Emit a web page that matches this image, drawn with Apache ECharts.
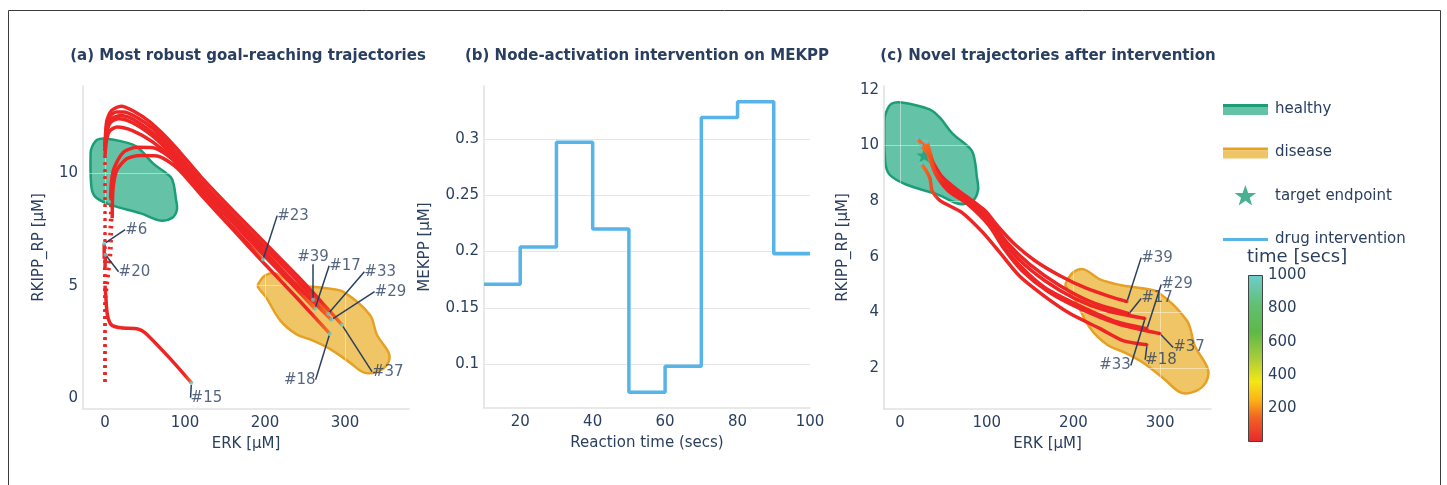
<!DOCTYPE html>
<html><head><meta charset="utf-8">
<script src="https://cdn.jsdelivr.net/npm/echarts@6/dist/echarts.min.js"></script>
<style>html,body{margin:0;padding:0;background:#fff}#c{width:1447px;height:485px}</style>
</head><body><div id="c"></div>
<script>
// ---------------- data ----------------
// regions in (ERK, RKIPP_RP) space
const healthyRegion = [[-16,11.2],[-10,11.5],[2,11.55],[34,11.3],[46,11.0],[60,10.45],[82,9.85],[86,9.5],[88.5,8.9],[90,8.4],[84,8.02],[69,7.9],[45,8.22],[7,8.6],[-12,8.95],[-17,9.4],[-18,10.9]];
const diseaseRegion = [[192,5.1],[200,5.45],[212,5.55],[230,5.2],[255,4.98],[277,4.88],[298,4.72],[331,3.7],[340,2.8],[355,1.97],[353,1.5],[341,1.17],[324,1.12],[305,1.6],[280,2.2],[260,2.55],[239,2.84],[219,3.45],[201,4.5],[191,4.95]];
const targetEndpoint = [[28, 9.65]];

// (b) intervention schedule
const interventionTime = [10,20,30,40,50,60,70,80,90,100];
const mekppLevel = [0.171,0.204,0.297,0.22,0.075,0.098,0.319,0.333,0.198,0.198];

// (a) trajectories: fast initial rise (sparse samples) and dense path
const riseA23 = [[0,0.7],[0,4],[5,6.5],[7,8.9]];
const pathA23 = [[8,9.6],[11,10.2],[23,10.95],[40,11.17],[60,11.15],[85,10.6],[110,9.55],[140,8.35],[170,7.2],[197.5,6.16]];
const riseA39 = [[0,0.7],[0,4],[0,8],[0,11.0]];
const pathA39 = [[2,11.8],[7,12.28],[17,12.44],[35,12.25],[60,11.65],[85,10.8],[120,9.4],[160,7.9],[200,6.4],[230,5.35],[260,4.375]];
const riseA17 = [[0,0.7],[0,4],[0,8],[0,10.8]];
const pathA17 = [[2,11.5],[6,11.9],[15,12.07],[35,11.9],[60,11.4],[85,10.65],[120,9.3],[160,7.8],[200,6.3],[230,5.2],[262.5,3.97]];
const riseA33 = [[0,0.7],[0,4],[0,8],[0,11.2]];
const pathA33 = [[2,12.1],[6,12.55],[14,12.74],[23,12.74],[40,12.5],[60,12.0],[85,11.1],[120,9.65],[160,8.15],[200,6.7],[240,5.25],[279,3.75]];
const riseA29 = [[0,0.7],[0,4],[0,8],[0,11.2]];
const pathA29 = [[2,11.9],[7,12.4],[19,12.59],[35,12.42],[60,11.8],[85,10.95],[120,9.5],[160,8.0],[200,6.5],[240,5.0],[283,3.48]];
const riseA37 = [[0,0.7],[0,4],[0,8],[0,11.0]];
const pathA37 = [[2,12.3],[8,12.8],[20,13.0],[35,12.8],[56,12.3],[85,11.3],[120,9.85],[160,8.35],[200,6.9],[240,5.45],[270,4.3],[296,3.26]];
const riseA18 = [[0,0.7],[0,4],[8,6.5],[9,8.0]];
const pathA18 = [[10,9.3],[14.6,10.13],[27,10.66],[44,10.8],[65,10.78],[90,10.25],[120,9.05],[160,7.5],[200,5.95],[240,4.45],[281,2.86]];
const riseA15 = [[0,0.7],[0,3],[0,5]];
const pathA15 = [[1,4.5],[3,3.7],[8,3.25],[20,3.12],[41,3.07],[50,2.9],[80,1.8],[108,0.67]];
const riseA6 = [[0,0.7],[0,3],[-1,6.2]];
const pathA6 = [[-1,6.87]];
const riseA20 = [[0,0.7],[0,3],[0,5.8]];
const pathA20 = [[0.5,6.38]];

// (c) trajectories after intervention (start in disease, end in healthy)
const pathC39 = [[261.8,4.39],[242.2,4.57],[213.4,4.89],[184.5,5.32],[155.7,5.86],[132.6,6.44],[113,7.09],[98,7.66],[75,8.2],[51.9,8.74],[40.4,9.17],[35.8,9.64],[31.1,10.14]];
const pathC17 = [[264.1,3.96],[222.6,4.35],[184.5,4.96],[149.9,5.72],[124.6,6.47],[106.1,7.23],[90,7.84],[66.9,8.38],[48.4,8.88],[38.1,9.39],[30,9.89],[19.6,10.25]];
const pathC33 = [[282.6,3.78],[238.8,4.06],[201.8,4.5],[167.2,5.14],[136.1,5.94],[115.3,6.73],[98,7.48],[71.5,8.17],[48.4,8.71],[36.9,9.28],[32.3,9.82],[30,10.14]];
const pathC29 = [[284.9,3.42],[245.7,3.71],[201.8,4.32],[167.2,4.89],[138.4,5.68],[117.6,6.47],[100.3,7.3],[75,8.02],[51.9,8.53],[39.2,9.1],[33.4,9.75],[27.7,10.18]];
const pathC37 = [[299.9,3.24],[250.3,3.6],[205.3,4.17],[170.7,4.75],[140.7,5.5],[120,6.29],[102.7,7.12],[78.4,7.88],[55.4,8.38],[41.5,8.96],[34.6,9.6],[24.2,10.0]];
const pathC18 = [[284.9,2.84],[257.2,2.99],[230.7,3.42],[196.1,3.96],[167.2,4.57],[138.4,5.29],[115.3,6.15],[95.7,6.87],[71.5,7.59],[46.1,8.02],[36.9,8.38],[34.6,8.81],[30,9.1],[24.2,9.35]];

// tick values
const ticksAx = [0,100,200,300];
const ticksAy = [0,5,10];
const ticksBx = [20,40,60,80,100];
const ticksBy = [0.1,0.15,0.2,0.25,0.3];
const ticksCx = [0,100,200,300];
const ticksCy = [2,4,6,8,10,12];
const ticksTime = [0,200,400,600,800,1000];

// ---------------- style ----------------
const FONT = 'DejaVu Sans';
const TXT = '#2a3f5f';
const RED = '#ee2525';
const ORANGE = '#f57d22';
const TEAL = '#62c8cc';
const GREEN_LINE = '#1b9e77', GREEN_FILL = '#64c2a6';
const ORANGE_LINE = '#e6a125', ORANGE_FILL = '#f0c565';
const BLUE = '#56b4e9';
const colorStops = [
  {offset:0, color:'#e8262b'},{offset:0.15, color:'#f26522'},{offset:0.25, color:'#fbb216'},
  {offset:0.36, color:'#f5e714'},{offset:0.5, color:'#a9cc3a'},{offset:0.66, color:'#5db947'},
  {offset:0.82, color:'#62bf72'},{offset:1, color:'#6dcdd0'}];

const labelOffA = {'#23':[30,-44],'#39':[0,-43],'#17':[30,-43],'#33':[52,-42],'#29':[59,-28],'#37':[46,47],'#18':[-30,46],'#15':[15,15],'#6':[32,-14],'#20':[29,17]};
const labelOffC = {'#39':[30,-44],'#17':[28,-15],'#29':[30,-44],'#37':[29,14],'#18':[14,15],'#33':[-30,47]};

const trajA = [
  {id:'#23', rise:riseA23, path:pathA23, dir:'x'},
  {id:'#39', rise:riseA39, path:pathA39, dir:'x'},
  {id:'#17', rise:riseA17, path:pathA17, dir:'x'},
  {id:'#33', rise:riseA33, path:pathA33, dir:'x'},
  {id:'#29', rise:riseA29, path:pathA29, dir:'x'},
  {id:'#37', rise:riseA37, path:pathA37, dir:'x'},
  {id:'#18', rise:riseA18, path:pathA18, dir:'x'},
  {id:'#15', rise:riseA15, path:pathA15, dir:'x'},
  {id:'#6',  rise:riseA6,  path:pathA6,  dir:'y'},
  {id:'#20', rise:riseA20, path:pathA20, dir:'y'}
];
const trajC = [
  {id:'#39', path:pathC39},{id:'#17', path:pathC17},{id:'#33', path:pathC33},
  {id:'#29', path:pathC29},{id:'#37', path:pathC37},{id:'#18', path:pathC18}
];

const last = a => a[a.length-1];
const tailStops = [{offset:0,color:RED},{offset:0.9,color:RED},{offset:1,color:ORANGE}];
function grad(dir) {
  if (dir === 'x') return new echarts.graphic.LinearGradient(0,0,1,0,tailStops);
  if (dir === '-x') return new echarts.graphic.LinearGradient(1,0,0,0,tailStops);
  return new echarts.graphic.LinearGradient(0,1,0,0,tailStops);
}
const numFmt = v => String(parseFloat(Number(v).toFixed(6)));

function valAxis(gi, min, max, ticks, extra) {
  const step = ticks[1]-ticks[0];
  const ax = {
    type:'value', gridIndex:gi, min:min, max:max, minInterval:step, maxInterval:step, z:1,
    axisLine:{show:true, onZero:false, lineStyle:{color:'#e1e1e1', width:1.5}},
    axisTick:{show:false},
    axisLabel:{color:TXT, fontSize:15, fontFamily:FONT, margin:5, showMinLabel:false, showMaxLabel:false, formatter:numFmt},
    splitLine:{show:true, showMinLine:false, showMaxLine:false, lineStyle:{color:'rgba(255,255,255,0.45)', width:1}},
    nameLocation:'middle',
    nameTextStyle:{color:TXT, fontSize:15, fontFamily:FONT}
  };
  return echarts.util.merge(ax, extra || {}, true);
}

function regionSeries(name, pts, gi, stroke, fill) {
  return {
    type:'custom', name:name, xAxisIndex:gi, yAxisIndex:gi, z:0, silent:true,
    data:[pts[0]], clip:true,
    renderItem:function(params, api){
      return {type:'polygon', shape:{points:pts.map(p => api.coord(p)), smooth:0.35},
        style:{fill:fill, stroke:stroke, lineWidth:2.5}};
    }
  };
}

const labelStyle = {show:true, position:'inside', formatter:'{b}', color:TXT, fontSize:15, fontFamily:FONT,
  textBorderWidth:0, textBorderColor:'transparent', textShadowBlur:0};

const series = [];
series.push(regionSeries('healthy', healthyRegion, 0, GREEN_LINE, GREEN_FILL));
series.push(regionSeries('disease', diseaseRegion, 0, ORANGE_LINE, ORANGE_FILL));
series.push(regionSeries('healthy', healthyRegion, 2, GREEN_LINE, GREEN_FILL));
series.push(regionSeries('disease', diseaseRegion, 2, ORANGE_LINE, ORANGE_FILL));

// panel a trajectories
trajA.forEach(t => {
  series.push({type:'line', xAxisIndex:0, yAxisIndex:0, z:2, silent:true, symbol:'none',
    data:t.rise, lineStyle:{color:RED, width:2.5, type:[2.5,4.5]}});
  series.push({type:'line', xAxisIndex:0, yAxisIndex:0, z:3, silent:true, symbol:'none', smooth:0.25,
    data:[last(t.rise)].concat(t.path), lineStyle:{color:grad(t.dir), width:3.5}});
});
series.push({type:'scatter', xAxisIndex:0, yAxisIndex:0, z:5, silent:true, symbolSize:4,
  itemStyle:{color:TEAL},
  data:trajA.map(t => ({name:t.id, value:last(t.path)})),
  label:labelStyle,
  labelLayout:function(p){ const o = labelOffA[trajA[p.dataIndex].id]; return {dx:o[0], dy:o[1]}; },
  labelLine:{show:true, lineStyle:{color:TXT, width:1.5}}
});

// panel b
series.push({type:'line', name:'drug intervention', xAxisIndex:1, yAxisIndex:1, z:2, step:'end', symbol:'none',
  data:interventionTime.map((t,i) => [t, mekppLevel[i]]), lineStyle:{color:BLUE, width:3.5}, itemStyle:{color:BLUE}});

// panel c
series.push({type:'scatter', name:'target endpoint', xAxisIndex:2, yAxisIndex:2, z:1.5, silent:true,
  symbol:'path://M12,0L14.9,8.3L23.4,8.3L16.6,13.4L19.1,21.6L12,16.6L4.9,21.6L7.4,13.4L0.6,8.3L9.1,8.3Z',
  symbolSize:[16,15], itemStyle:{color:GREEN_LINE}, data:targetEndpoint});
trajC.forEach(t => {
  series.push({type:'line', xAxisIndex:2, yAxisIndex:2, z:3, silent:true, symbol:'none', smooth:0.25,
    data:t.path, lineStyle:{color:grad('-x'), width:3.5}});
});
series.push({type:'scatter', xAxisIndex:2, yAxisIndex:2, z:5, silent:true, symbolSize:4,
  itemStyle:{color:TEAL}, data:trajC.map(t => last(t.path))});
series.push({type:'scatter', xAxisIndex:2, yAxisIndex:2, z:5, silent:true, symbolSize:3,
  itemStyle:{color:'#c81e1e'},
  data:trajC.map(t => ({name:t.id, value:t.path[0]})),
  label:labelStyle,
  labelLayout:function(p){ const o = labelOffC[trajC[p.dataIndex].id]; return {dx:o[0], dy:o[1]}; },
  labelLine:{show:true, lineStyle:{color:TXT, width:1.5}}
});

// colorbar
const cbMin = ticksTime[0], cbMax = last(ticksTime);
series.push({type:'custom', xAxisIndex:3, yAxisIndex:3, silent:true, data:[[0,cbMin]],
  renderItem:function(params, api){
    const a = api.coord([0,cbMin]), b = api.coord([1,cbMax]);
    return {type:'rect', shape:{x:Math.round(a[0])+0.5, y:Math.round(b[1])+0.5, width:Math.round(b[0]-a[0])-1, height:Math.round(a[1]-b[1])-1},
      style:{fill:new echarts.graphic.LinearGradient(0,1,0,0,colorStops), stroke:'#444', lineWidth:1}};
  }});

const svgIcon = s => 'image://data:image/svg+xml;charset=utf-8,' + encodeURIComponent('<svg xmlns="http://www.w3.org/2000/svg" width="45" height="22" viewBox="0 0 45 22">' + s + '</svg>');

const option = {
  animation:false,
  backgroundColor:'#fff',
  textStyle:{fontFamily:FONT},
  grid:[
    {left:83, top:86, width:326, height:323},
    {left:484, top:86, width:326, height:322},
    {left:884, top:86, width:327, height:323},
    {left:1248, top:275, width:15, height:167}
  ],
  xAxis:[
    valAxis(0, -27.5, 380, ticksAx, {name:'ERK [μM]', nameGap:28, axisLabel:{margin:7}}),
    valAxis(1, 10, 100, ticksBx, {name:'Reaction time (secs)', nameGap:28, axisLabel:{showMaxLabel:true, margin:7}, splitLine:{show:false}}),
    valAxis(2, -18.5, 358.7, ticksCx, {name:'ERK [μM]', nameGap:28, axisLabel:{margin:7}}),
    {type:'value', gridIndex:3, min:0, max:1, show:false}
  ],
  yAxis:[
    valAxis(0, -0.5, 13.9, ticksAy, {name:'RKIPP_RP [μM]', nameGap:36}),
    valAxis(1, 0.061, 0.347, ticksBy, {name:'MEKPP [μM]', nameGap:51, splitLine:{lineStyle:{color:'#e6e6e6'}}}),
    valAxis(2, 0.53, 12.14, ticksCy, {name:'RKIPP_RP [μM]', nameGap:33}),
    {type:'value', gridIndex:3, min:cbMin, max:cbMax, minInterval:ticksTime[1]-ticksTime[0], maxInterval:ticksTime[1]-ticksTime[0],
      position:'right', axisLine:{show:false}, axisTick:{show:false}, splitLine:{show:false},
      axisLabel:{color:TXT, fontSize:15, fontFamily:FONT, margin:5, showMinLabel:false, showMaxLabel:true, formatter:v => String(v)}}
  ],
  legend:{
    orient:'vertical', left:1218, top:93, itemWidth:45, itemHeight:22, itemGap:21.5,
    textStyle:{color:TXT, fontSize:15, fontFamily:FONT, padding:[0,0,0,2]},
    selectedMode:false,
    data:[
      {name:'healthy', icon:svgIcon('<rect x="0" y="6" width="45" height="3" fill="'+GREEN_LINE+'"/><rect x="0" y="9" width="45" height="8" fill="'+GREEN_FILL+'"/>')},
      {name:'disease', icon:svgIcon('<rect x="0" y="6" width="45" height="3" fill="'+ORANGE_LINE+'"/><rect x="0" y="9" width="45" height="8" fill="'+ORANGE_FILL+'"/>')},
      {name:'target endpoint', icon:svgIcon('<path transform="translate(11,0) scale(0.95)" d="M12,0L14.9,8.3L23.4,8.3L16.6,13.4L19.1,21.6L12,16.6L4.9,21.6L7.4,13.4L0.6,8.3L9.1,8.3Z" fill="'+GREEN_LINE+'"/>')},
      {name:'drug intervention', icon:svgIcon('<rect x="0" y="9.5" width="45" height="3" fill="'+BLUE+'"/>')}
    ]
  },
  graphic:[
    {type:'rect', silent:true, shape:{x:8.5, y:10.5, width:1432, height:490}, style:{fill:'none', stroke:'#3c3c3c', lineWidth:1}},
    {type:'text', silent:true, style:{text:'(a) Most robust goal-reaching trajectories', x:248, y:56, align:'center', verticalAlign:'middle', font:'bold 15px "DejaVu Sans"', fill:TXT}},
    {type:'text', silent:true, style:{text:'(b) Node-activation intervention on MEKPP', x:647, y:56, align:'center', verticalAlign:'middle', font:'bold 15px "DejaVu Sans"', fill:TXT}},
    {type:'text', silent:true, style:{text:'(c) Novel trajectories after intervention', x:1048, y:56, align:'center', verticalAlign:'middle', font:'bold 15px "DejaVu Sans"', fill:TXT}},
    {type:'text', silent:true, style:{text:'time [secs]', x:1247, y:257, align:'left', verticalAlign:'middle', font:'18px "DejaVu Sans"', fill:TXT}}
  ],
  series:series
};

const chart = echarts.init(document.getElementById('c'), null, {renderer:'canvas'});
chart.setOption(option);
</script></body></html>
